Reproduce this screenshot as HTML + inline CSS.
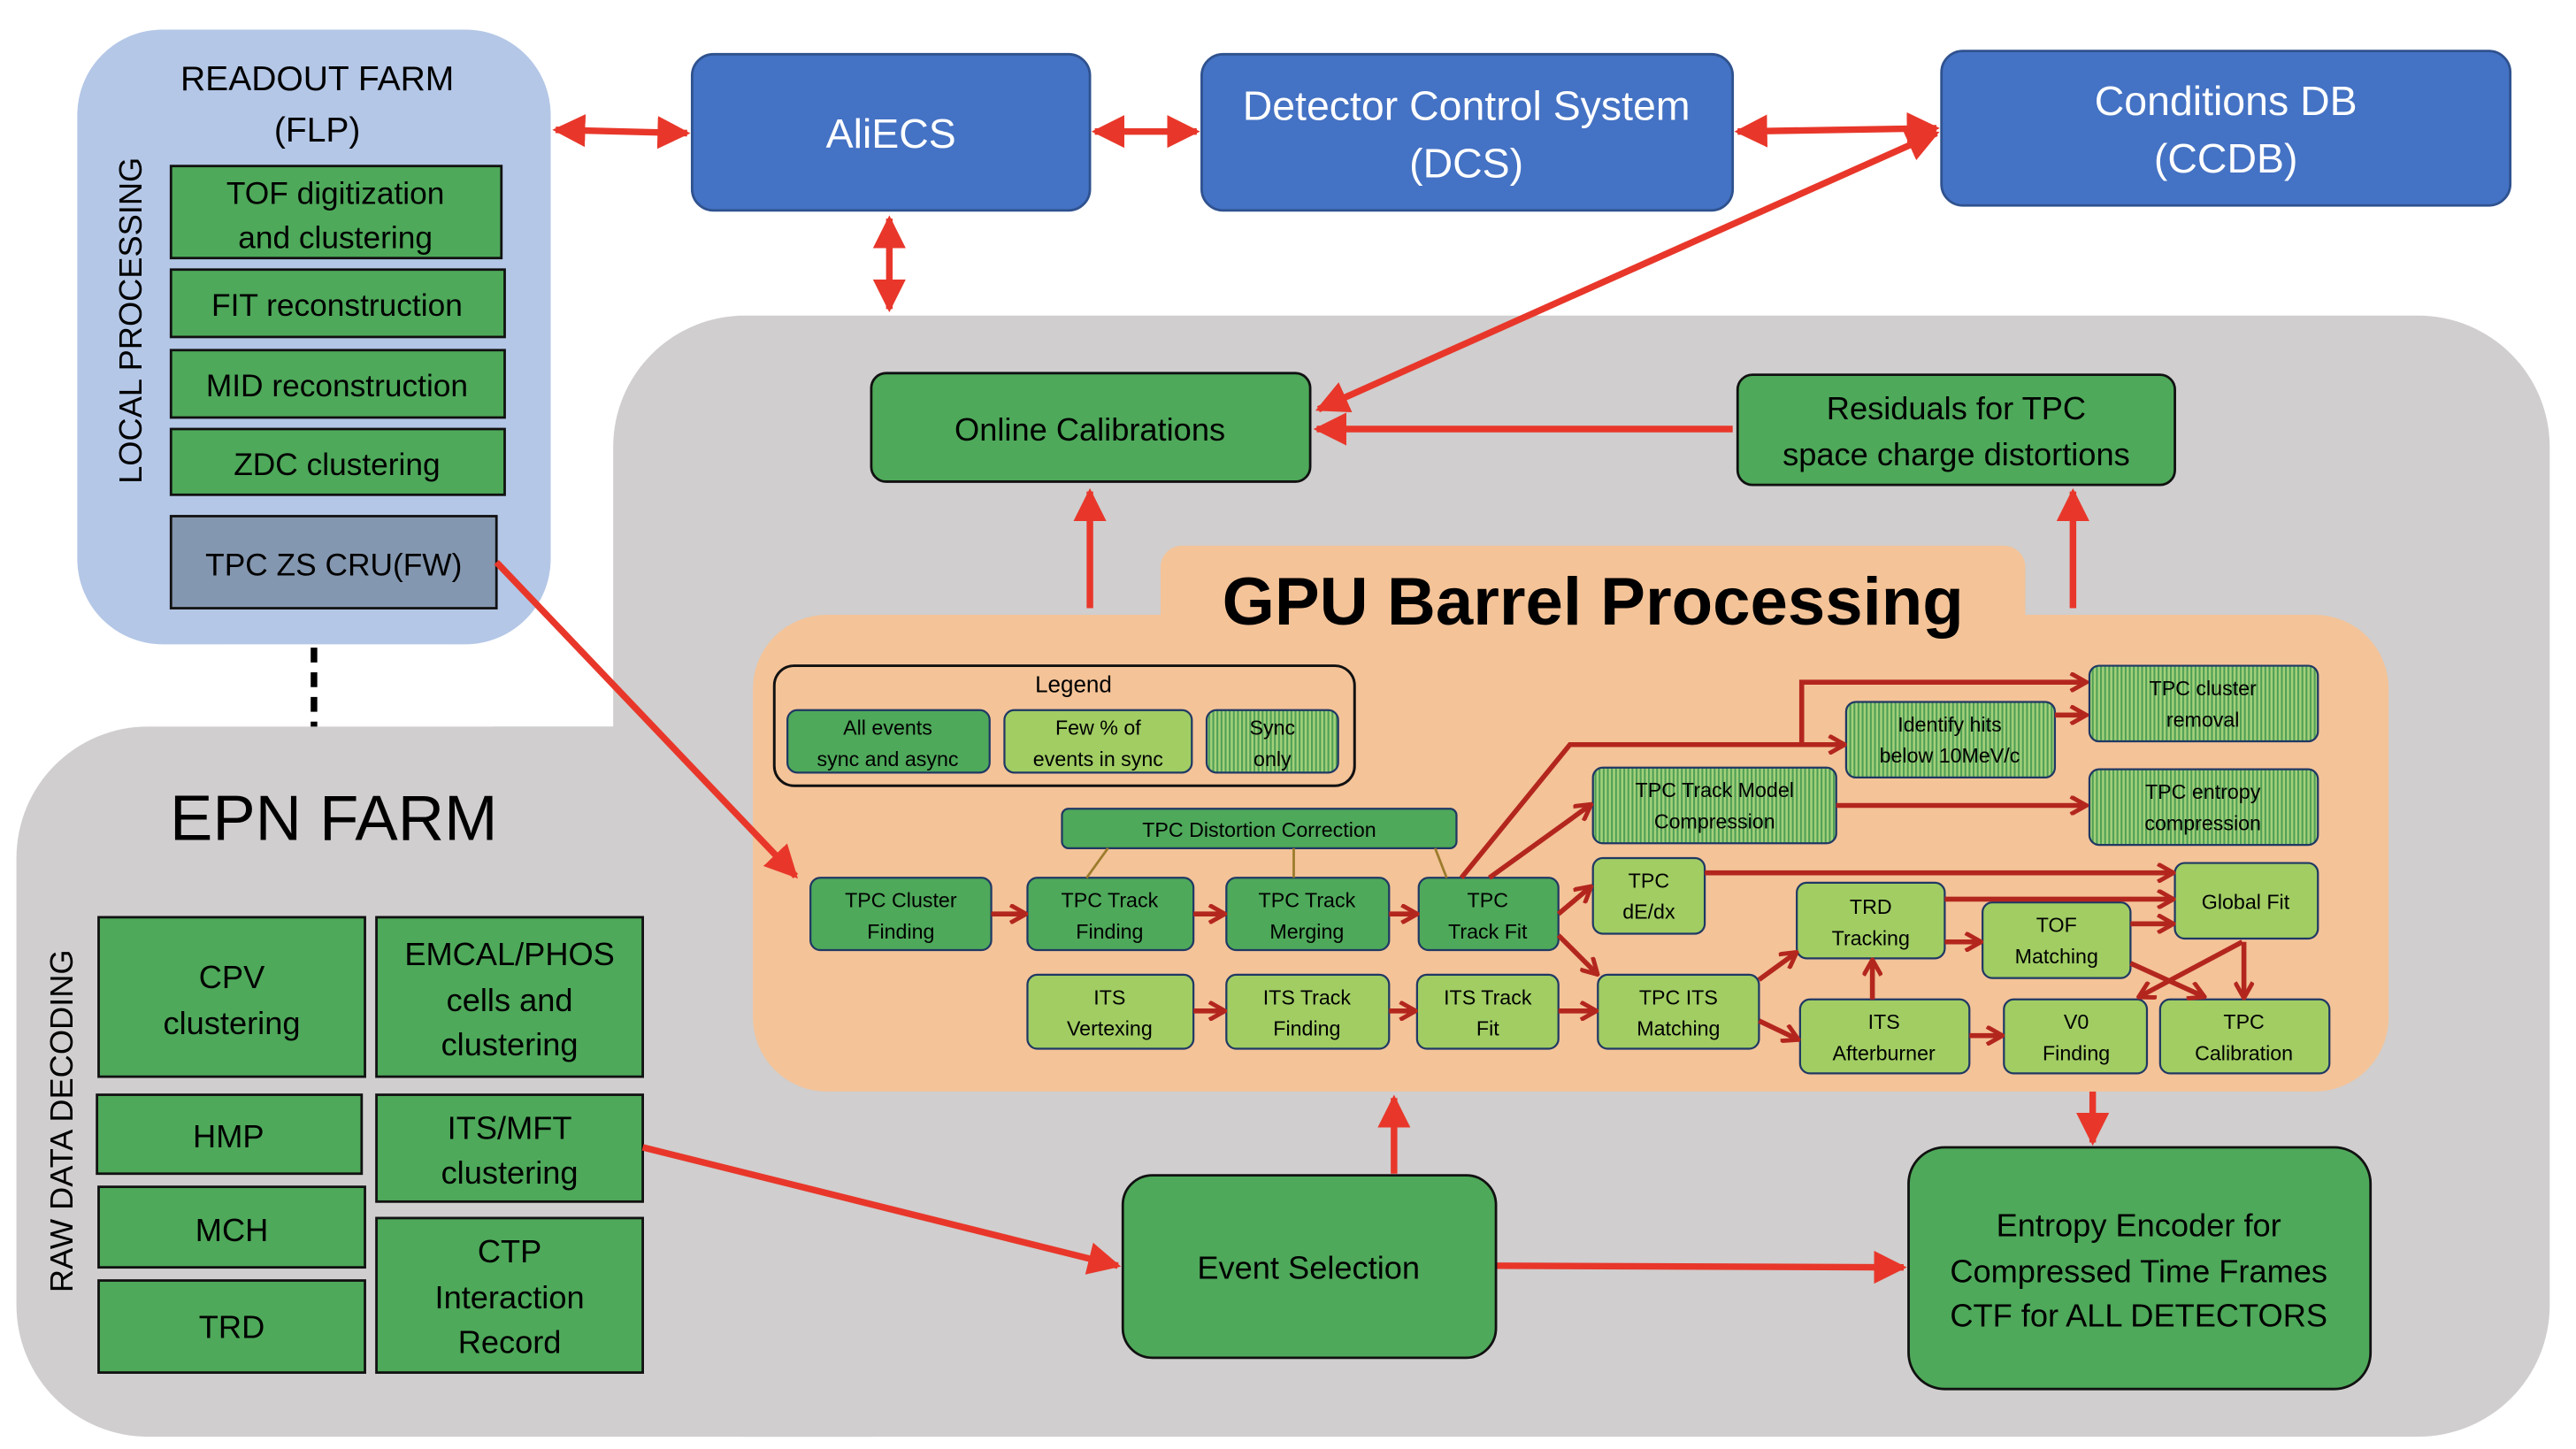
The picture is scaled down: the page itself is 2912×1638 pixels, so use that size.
<!DOCTYPE html>
<html><head><meta charset="utf-8"><style>
html,body{margin:0;padding:0;background:#fff;}
svg{display:block;}
text{font-family:"Liberation Sans",sans-serif;}
</style></head><body>
<svg width="2912" height="1638" viewBox="0 0 1567 881.5" preserveAspectRatio="none" xmlns="http://www.w3.org/2000/svg">
<defs>
<pattern id="hatch" width="2.5" height="10" patternUnits="userSpaceOnUse">
<rect width="2.5" height="10" fill="#a3d07a"/><rect width="1.1" height="10" fill="#4e9f55"/>
</pattern>
<marker id="ar" viewBox="0 0 10 10" refX="9" refY="5" markerWidth="5" markerHeight="5" orient="auto-start-reverse"><path d="M0,0 L10,5 L0,10 z" fill="#e8372a"/></marker>
<marker id="dr" viewBox="0 0 10 10" refX="8" refY="5" markerWidth="4" markerHeight="4" orient="auto"><path d="M1,0.5 L9,5 L1,9.5" fill="none" stroke="#b3261e" stroke-width="2.2"/></marker>
</defs>
<rect x="373" y="192" width="1178" height="682" rx="80" fill="#d0cece"/>
<rect x="10" y="442" width="600" height="432" rx="80" fill="#d0cece"/>
<rect x="300" y="442" width="120" height="200" fill="#d0cece"/>
<rect x="47" y="18" width="288" height="374" rx="52" fill="#b4c7e7"/>
<line x1="191" y1="394" x2="191" y2="442" stroke="#000" stroke-width="4" stroke-dasharray="9,6"/>
<text x="193" y="55" font-size="21" text-anchor="middle">READOUT FARM</text>
<text x="193" y="86" font-size="21" text-anchor="middle">(FLP)</text>
<text transform="translate(86,195) rotate(-90)" font-size="19.5" text-anchor="middle">LOCAL  PROCESSING</text>
<g stroke="#111" stroke-width="1.5" fill="#4ea95a">
<rect x="104" y="101" width="201" height="56"/>
<rect x="104" y="164" width="203" height="41"/>
<rect x="104" y="213" width="203" height="41"/>
<rect x="104" y="261" width="203" height="40"/>
<rect x="104" y="314" width="198" height="56" fill="#8497b0"/>
</g>
<g font-size="19" text-anchor="middle">
<text x="204" y="124">TOF digitization</text><text x="204" y="151">and clustering</text>
<text x="205" y="192">FIT reconstruction</text>
<text x="205" y="241">MID reconstruction</text>
<text x="205" y="289">ZDC  clustering</text>
<text x="203" y="350">TPC ZS CRU(FW)</text>
</g>
<text x="203" y="511" font-size="39" text-anchor="middle">EPN FARM</text>
<text transform="translate(44,682) rotate(-90)" font-size="19.5" text-anchor="middle">RAW DATA DECODING</text>
<g stroke="#111" stroke-width="1.5" fill="#4ea95a">
<rect x="60" y="558" width="162" height="97"/>
<rect x="229" y="558" width="162" height="97"/>
<rect x="59" y="666" width="161" height="48"/>
<rect x="229" y="666" width="162" height="65"/>
<rect x="60" y="722" width="162" height="49"/>
<rect x="229" y="741" width="162" height="94"/>
<rect x="60" y="779" width="162" height="56"/>
</g>
<g font-size="19.5" text-anchor="middle">
<text x="141" y="601">CPV</text><text x="141" y="629">clustering</text>
<text x="310" y="587">EMCAL/PHOS</text><text x="310" y="615">cells and</text><text x="310" y="642">clustering</text>
<text x="139" y="698">HMP</text>
<text x="310" y="693">ITS/MFT</text><text x="310" y="720">clustering</text>
<text x="141" y="755">MCH</text>
<text x="310" y="768">CTP</text><text x="310" y="796">Interaction</text><text x="310" y="823">Record</text>
<text x="141" y="814">TRD</text>
</g>
<g fill="#4472c4" stroke="#2f528f" stroke-width="1.5">
<rect x="421" y="33" width="242" height="95" rx="13"/>
<rect x="731" y="33" width="323" height="95" rx="13"/>
<rect x="1181" y="31" width="346" height="94" rx="13"/>
</g>
<g fill="#fff" font-size="25" text-anchor="middle">
<text x="542" y="90">AliECS</text>
<text x="892" y="73">Detector Control System</text><text x="892" y="108">(DCS)</text>
<text x="1354" y="70">Conditions DB</text><text x="1354" y="105">(CCDB)</text>
</g>
<g stroke="#e8372a" stroke-width="4" fill="none">
<line x1="338" y1="79" x2="418" y2="81" marker-start="url(#ar)" marker-end="url(#ar)"/>
<line x1="666" y1="80" x2="728" y2="80" marker-start="url(#ar)" marker-end="url(#ar)"/>
<line x1="1057" y1="80" x2="1178" y2="78" marker-start="url(#ar)" marker-end="url(#ar)"/>
<line x1="541" y1="133" x2="541" y2="188" marker-start="url(#ar)" marker-end="url(#ar)"/>
<line x1="1178" y1="81" x2="802" y2="249" marker-start="url(#ar)" marker-end="url(#ar)"/>
<line x1="1054" y1="261" x2="801" y2="261" marker-end="url(#ar)"/>
<line x1="663" y1="370" x2="663" y2="299" marker-end="url(#ar)"/>
<line x1="1261" y1="370" x2="1261" y2="299" marker-end="url(#ar)"/>
<line x1="391" y1="698" x2="680" y2="770" marker-end="url(#ar)"/>
<line x1="848" y1="714" x2="848" y2="668" marker-end="url(#ar)"/>
<line x1="910" y1="770" x2="1158" y2="771" marker-end="url(#ar)"/>
<line x1="1273" y1="664" x2="1273" y2="695" marker-end="url(#ar)"/>
</g>
<g fill="#4ea95a" stroke="#111" stroke-width="1.5">
<rect x="530" y="227" width="267" height="66" rx="9"/>
<rect x="1057" y="228" width="266" height="67" rx="9"/>
<rect x="683" y="715" width="227" height="111" rx="18"/>
<rect x="1161" y="698" width="281" height="147" rx="22"/>
</g>
<g font-size="19.5" text-anchor="middle">
<text x="663" y="268">Online Calibrations</text>
<text x="1190" y="255">Residuals for TPC</text><text x="1190" y="283">space charge distortions</text>
<text x="796" y="778">Event Selection</text>
<text x="1301" y="752">Entropy Encoder for</text><text x="1301" y="780">Compressed Time Frames</text><text x="1301" y="807">CTF for ALL DETECTORS</text>
</g>
<rect x="706" y="332" width="526" height="60" rx="13" fill="#f4c398"/>
<rect x="458" y="374" width="995" height="290" rx="45" fill="#f4c398"/>
<text x="969" y="380" font-size="41" font-weight="bold" text-anchor="middle">GPU Barrel Processing</text>
<line x1="302" y1="342" x2="484" y2="533" stroke="#e8372a" stroke-width="4" marker-end="url(#ar)"/>
<rect x="471" y="405" width="353" height="73" rx="12" fill="none" stroke="#111" stroke-width="1.6"/>
<text x="653" y="421" font-size="14" text-anchor="middle">Legend</text>
<g stroke="#1f3864" stroke-width="1.2">
<rect x="479" y="432" width="123" height="38" rx="6" fill="#4ea95a"/>
<rect x="611" y="432" width="114" height="38" rx="6" fill="#a1cd63"/>
<rect x="734" y="432" width="80" height="38" rx="6" fill="url(#hatch)"/>
<rect x="646" y="492" width="240" height="24" rx="4" fill="#4ea95a"/>
<rect x="493" y="534" width="110" height="44" rx="6" fill="#4ea95a"/>
<rect x="625" y="534" width="101" height="44" rx="6" fill="#4ea95a"/>
<rect x="746" y="534" width="99" height="44" rx="6" fill="#4ea95a"/>
<rect x="863" y="534" width="85" height="44" rx="6" fill="#4ea95a"/>
<rect x="625" y="593" width="101" height="45" rx="6" fill="#a1cd63"/>
<rect x="746" y="593" width="99" height="45" rx="6" fill="#a1cd63"/>
<rect x="862" y="593" width="86" height="45" rx="6" fill="#a1cd63"/>
<rect x="1271" y="405" width="139" height="46" rx="6" fill="url(#hatch)"/>
<rect x="1123" y="427" width="127" height="46" rx="6" fill="url(#hatch)"/>
<rect x="969" y="467" width="148" height="46" rx="6" fill="url(#hatch)"/>
<rect x="1271" y="468" width="139" height="46" rx="6" fill="url(#hatch)"/>
<rect x="969" y="522" width="68" height="46" rx="6" fill="#a1cd63"/>
<rect x="1093" y="537" width="90" height="46" rx="6" fill="#a1cd63"/>
<rect x="1206" y="549" width="90" height="46" rx="6" fill="#a1cd63"/>
<rect x="1323" y="525" width="87" height="46" rx="6" fill="#a1cd63"/>
<rect x="972" y="593" width="98" height="45" rx="6" fill="#a1cd63"/>
<rect x="1095" y="608" width="103" height="45" rx="6" fill="#a1cd63"/>
<rect x="1219" y="608" width="87" height="45" rx="6" fill="#a1cd63"/>
<rect x="1314" y="608" width="103" height="45" rx="6" fill="#a1cd63"/>
</g>
<g font-size="12.5" text-anchor="middle">
<text x="540" y="447">All events</text><text x="540" y="466">sync and async</text>
<text x="668" y="447">Few % of</text><text x="668" y="466">events in sync</text>
<text x="774" y="447">Sync</text><text x="774" y="466">only</text>
<text x="766" y="509">TPC Distortion Correction</text>
<text x="548" y="552">TPC Cluster</text><text x="548" y="571">Finding</text>
<text x="675" y="552">TPC Track</text><text x="675" y="571">Finding</text>
<text x="795" y="552">TPC Track</text><text x="795" y="571">Merging</text>
<text x="905" y="552">TPC</text><text x="905" y="571">Track Fit</text>
<text x="675" y="611">ITS</text><text x="675" y="630">Vertexing</text>
<text x="795" y="611">ITS Track</text><text x="795" y="630">Finding</text>
<text x="905" y="611">ITS Track</text><text x="905" y="630">Fit</text>
<text x="1340" y="423">TPC cluster</text><text x="1340" y="442">removal</text>
<text x="1186" y="445">Identify hits</text><text x="1186" y="464">below 10MeV/c</text>
<text x="1043" y="485">TPC Track Model</text><text x="1043" y="504">Compression</text>
<text x="1340" y="486">TPC entropy</text><text x="1340" y="505">compression</text>
<text x="1003" y="540">TPC</text><text x="1003" y="559">dE/dx</text>
<text x="1138" y="556">TRD</text><text x="1138" y="575">Tracking</text>
<text x="1251" y="567">TOF</text><text x="1251" y="586">Matching</text>
<text x="1366" y="553">Global Fit</text>
<text x="1021" y="611">TPC ITS</text><text x="1021" y="630">Matching</text>
<text x="1146" y="626">ITS</text><text x="1146" y="645">Afterburner</text>
<text x="1263" y="626">V0</text><text x="1263" y="645">Finding</text>
<text x="1365" y="626">TPC</text><text x="1365" y="645">Calibration</text>
</g>
<g stroke="#9c7c2c" stroke-width="1.5">
<line x1="674" y1="516" x2="661" y2="534"/><line x1="787" y1="516" x2="787" y2="534"/><line x1="873" y1="516" x2="880" y2="534"/>
</g>
<g stroke="#b3261e" stroke-width="3" fill="none" marker-end="url(#dr)">
<line x1="603" y1="556" x2="623" y2="556"/>
<line x1="726" y1="556" x2="744" y2="556"/>
<line x1="845" y1="556" x2="861" y2="556"/>
<line x1="726" y1="615" x2="744" y2="615"/>
<line x1="845" y1="615" x2="860" y2="615"/>
<polyline points="889,534 955,453 1121,453"/>
<polyline points="1096,453 1096,415 1268,415"/>
<line x1="1250" y1="435" x2="1268" y2="435"/>
<line x1="906" y1="534" x2="967" y2="490"/>
<line x1="1117" y1="490" x2="1268" y2="490"/>
<line x1="948" y1="556" x2="967" y2="540"/>
<line x1="948" y1="569" x2="971" y2="592"/>
<line x1="948" y1="615" x2="970" y2="615"/>
<line x1="1037" y1="531" x2="1321" y2="531"/>
<line x1="1183" y1="547" x2="1321" y2="547"/>
<line x1="1296" y1="562" x2="1321" y2="562"/>
<line x1="1183" y1="573" x2="1204" y2="573"/>
<line x1="1070" y1="596" x2="1092" y2="580"/>
<line x1="1070" y1="621" x2="1093" y2="632"/>
<line x1="1139" y1="608" x2="1139" y2="585"/>
<line x1="1198" y1="630" x2="1217" y2="630"/>
<line x1="1364" y1="573" x2="1302" y2="606"/>
<line x1="1365" y1="573" x2="1365" y2="606"/>
<line x1="1296" y1="586" x2="1340" y2="606"/>
</g>
</svg>
</body></html>
